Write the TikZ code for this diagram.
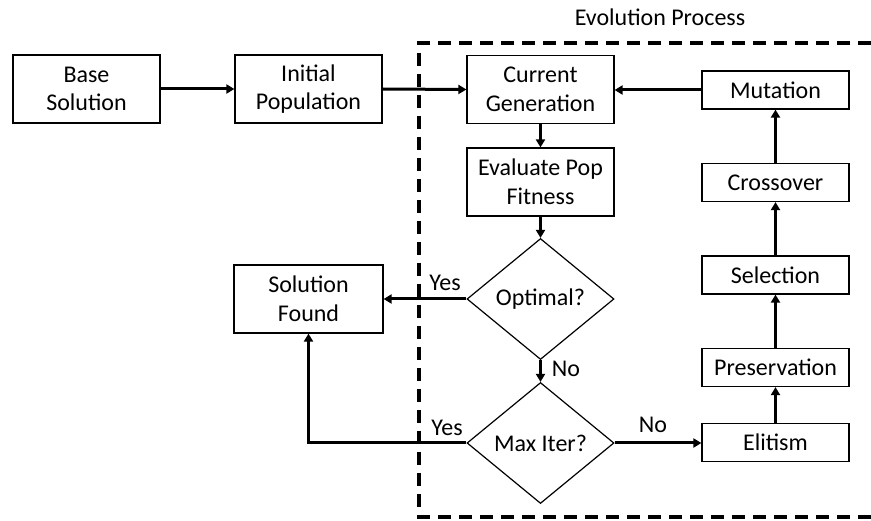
\documentclass[tikz,border=0pt]{standalone}
\usepackage{fontspec}
\setmainfont{Carlito}
\usetikzlibrary{shapes.geometric,arrows.meta}
\begin{document}
\begin{tikzpicture}[x=1pt,y=-1pt,
  every node/.style={font=\fontsize{24}{28.5}\selectfont},
  bigbox/.style={draw,line width=1.2pt,minimum width=147pt,minimum height=68pt,inner sep=0pt,align=center},
  smallbox/.style={draw,line width=1.2pt,minimum width=147pt,minimum height=38pt,inner sep=0pt,align=center},
  decision/.style={draw,line width=1.2pt,diamond,minimum width=147pt,minimum height=121pt,inner sep=0pt},
  conn/.style={line width=3pt,-{Triangle[length=8pt,width=9pt]}},
  lbl/.style={inner sep=0pt}]
\useasboundingbox (0,0) rectangle (871,521);
% dashed evolution region (open on the right, runs past the edge)
\draw[line width=3.2pt,dash pattern=on 13pt off 8pt] (871,43) -- (419,43) -- (419,517) -- (871,517);
\node[lbl] (evo) at (660,17) {Evolution Process};
% nodes
\node[bigbox] (base) at (86.5,89) {Base\\Solution};
\node[bigbox] (init) at (308.5,89) {Initial\\Population};
\node[bigbox] (curr) at (540.5,89.5) {Current\\Generation};
\node[bigbox] (eval) at (540.5,182) {Evaluate Pop\\Fitness};
\node[decision] (opt) at (540.5,299) {};
\node[lbl] (optt) at (540.5,299) {Optimal?};
\node[decision] (max) at (540.5,443) {};
\node[lbl] (maxt) at (540.5,443) {Max Iter?};
\node[bigbox,minimum width=149pt] (sol) at (308.5,299) {Solution\\Found};
\node[smallbox] (mut) at (775.5,90) {Mutation};
\node[smallbox] (cross) at (775.5,182.5) {Crossover};
\node[smallbox] (sel) at (775.5,275) {Selection};
\node[smallbox] (pres) at (775.5,367.5) {Preservation};
\node[smallbox] (elit) at (775.5,442.5) {Elitism};
% connectors
\draw[conn] (base.east) -- (init.west);
\draw[conn] (init.east) -- (curr.west);
\draw[conn] (mut.west) -- (curr.east |- mut.west);
\draw[conn] (curr.south) -- (eval.north);
\draw[conn] (eval.south) -- (opt.north);
\draw[conn] (opt.west) -- (sol.east);
\draw[conn] (opt.south) -- (max.north);
\draw[conn] (max.west) -| (sol.south);
\draw[conn] (max.east) -- (elit.west |- max.east);
\draw[conn] (elit.north) -- (pres.south);
\draw[conn] (pres.north) -- (sel.south);
\draw[conn] (sel.north) -- (cross.south);
\draw[conn] (cross.north) -- (mut.south);
% labels
\node[lbl] (yes1) at (445,283) {Yes};
\node[lbl] (yes2) at (447,428) {Yes};
\node[lbl] (no1) at (566,369) {No};
\node[lbl] (no2) at (653,425) {No};
\end{tikzpicture}
\end{document}
